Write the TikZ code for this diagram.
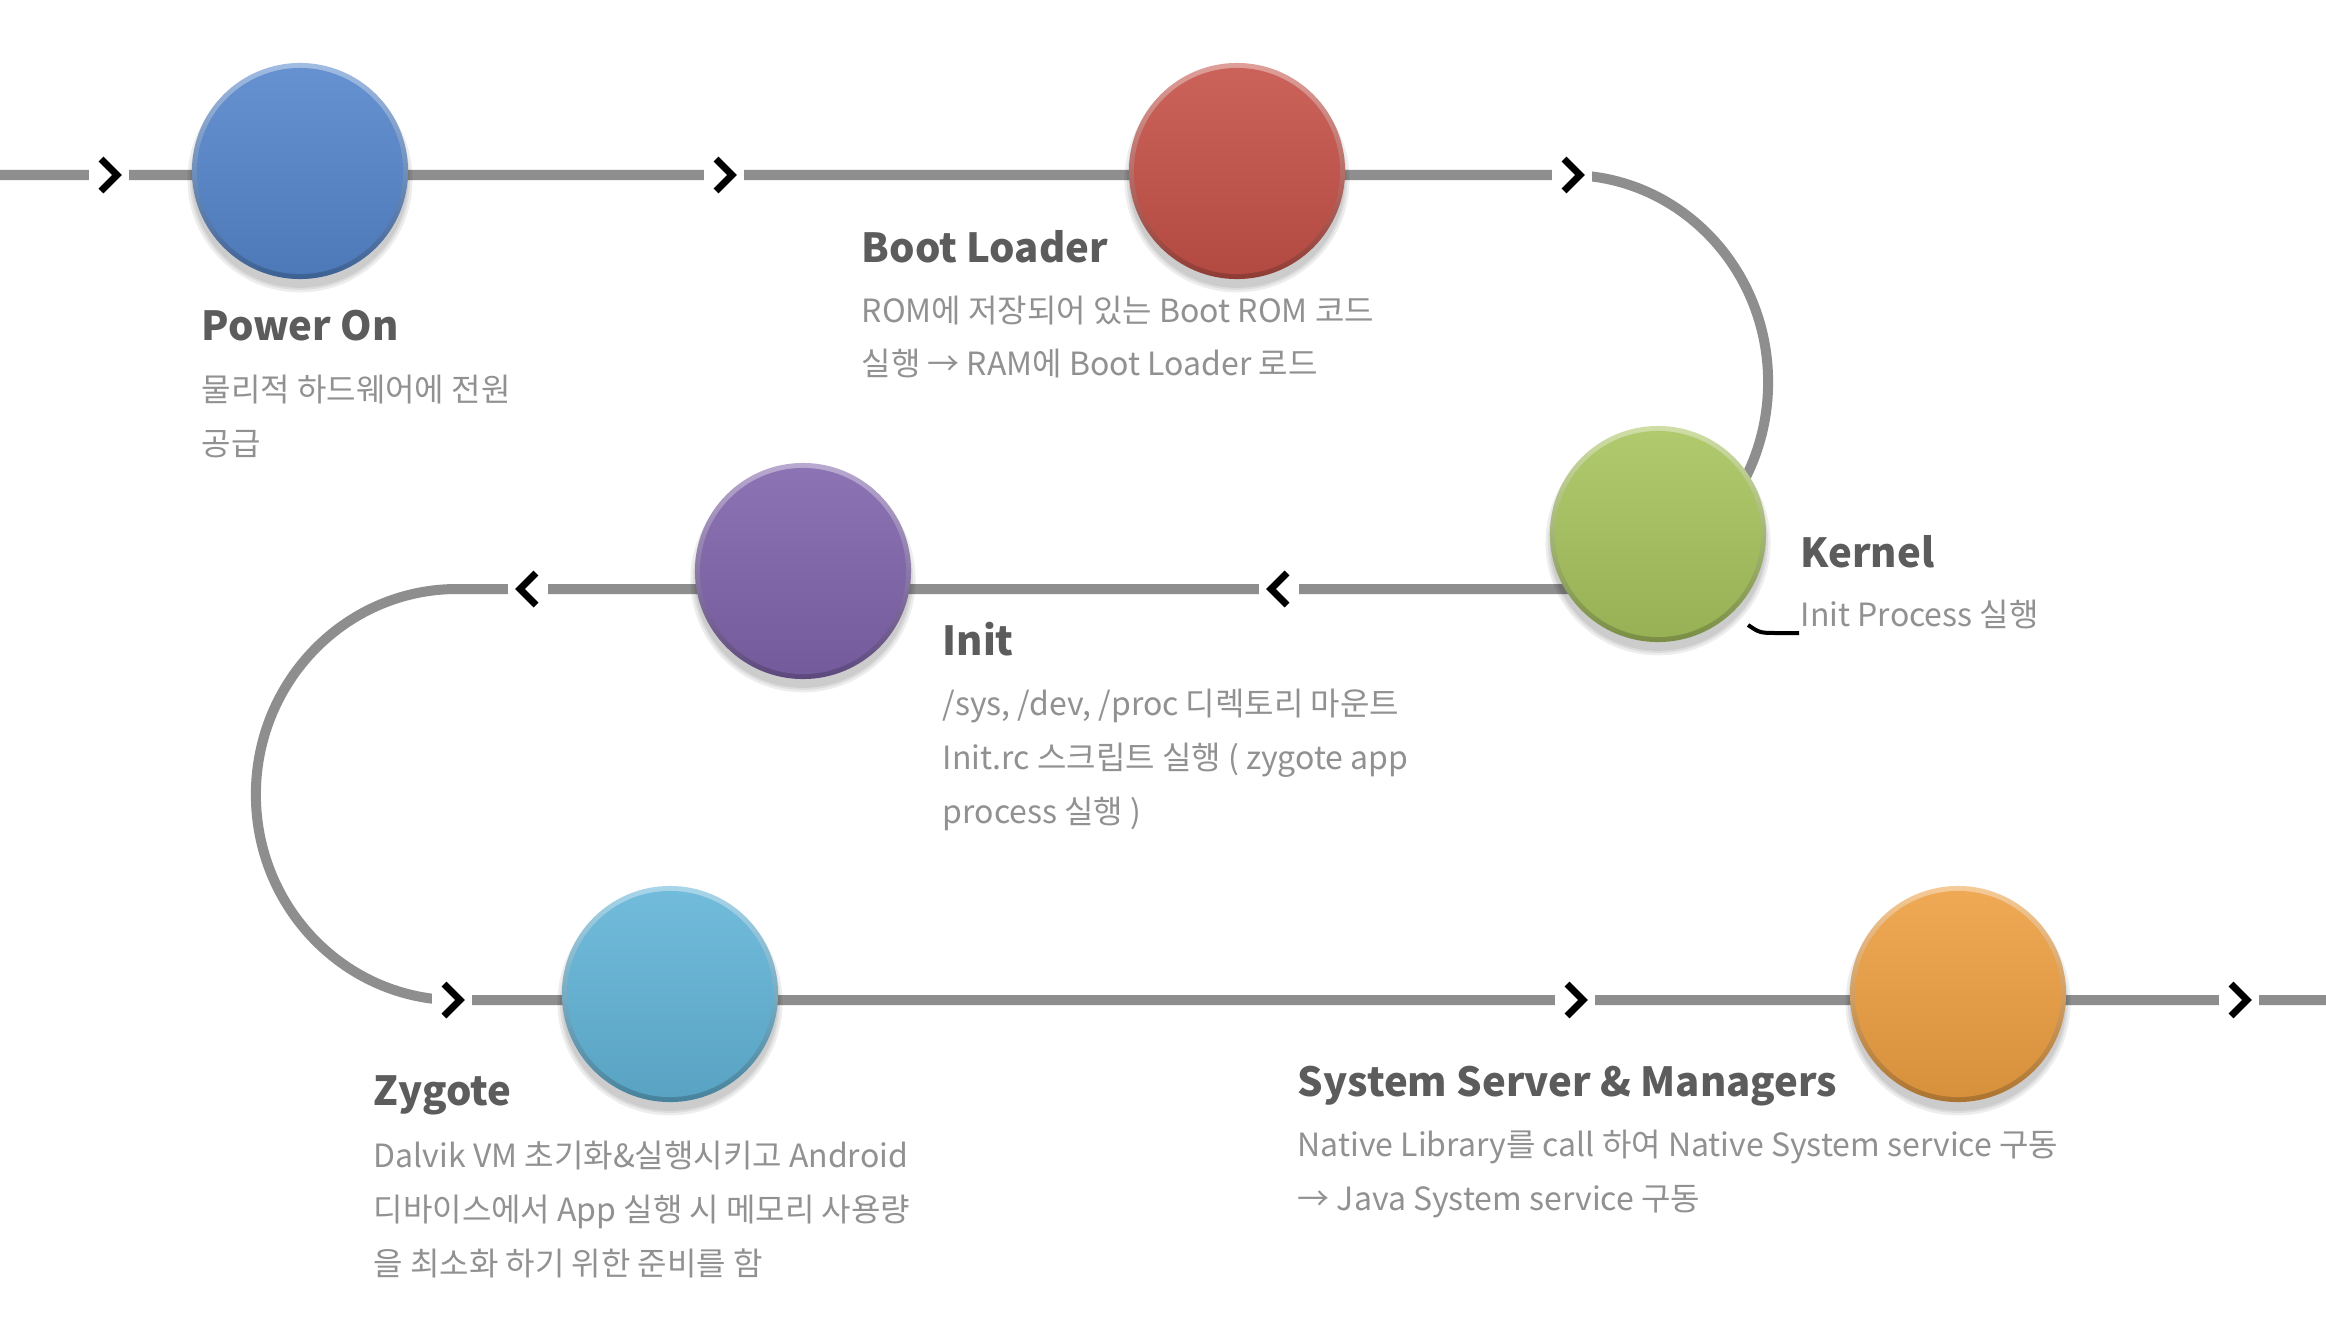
\documentclass[tikz,border=0pt]{standalone}
\usepackage{fontspec}
\setmainfont{Noto Sans CJK KR}
\usetikzlibrary{calc}
\definecolor{trackgray}{RGB}{142,142,142}
\definecolor{titlegray}{RGB}{92,92,92}
\definecolor{descgray}{RGB}{145,145,145}
\definecolor{cblue}{RGB}{85,134,204}
\definecolor{cred}{RGB}{198,82,72}
\definecolor{cgreen}{RGB}{168,196,94}
\definecolor{cpurple}{RGB}{128,100,172}
\definecolor{ccyan}{RGB}{98,180,216}
\definecolor{corange}{RGB}{238,160,66}
\pgfdeclarelayer{bg}
\pgfsetlayers{bg,main}
\tikzset{
  bead/.style={circle, minimum size=2.16cm, inner sep=0pt, outer sep=0pt,
    top color=#1!55!white, bottom color=#1!72!black,
    path picture={\shade[top color=#1!90!white, bottom color=#1!90!black]
      (path picture bounding box.center) circle[radius=1.03cm];}},
  track/.style={draw=trackgray, line width=0.1cm},
  ttl/.style={anchor=base west, inner sep=0pt, text=titlegray,
    font=\fontsize{11.4}{14}\selectfont\bfseries},
  dsc/.style={anchor=base west, inner sep=0pt, text=descgray,
    font=\fontsize{9.1}{11}\selectfont},
  chevR/.pic={\fill[white] (-33,-8) rectangle (7,8);
    \draw[black, line width=0.07cm, miter limit=10] (-21,-16) -- (-5,0) -- (-21,16);},
  chevL/.pic={\fill[white] (33,-8) rectangle (-7,8);
    \draw[black, line width=0.07cm, miter limit=10] (21,-16) -- (5,0) -- (21,16);},
  shadowlayer/.style={fill=black, opacity=0.07}
}
\begin{document}
\begin{tikzpicture}[x=0.01cm, y=-0.01cm]
\useasboundingbox (0,0) rectangle (2326,1324);

% beads
\node[bead=cblue]   (power)  at (300,171) {};
\node[bead=cred]    (boot)   at (1237,171) {};
\node[bead=cgreen]  (kernel) at (1658,534) {};
\node[bead=cpurple] (init)   at (803,571) {};
\node[bead=ccyan]   (zygote) at (670,994) {};
\node[bead=corange] (system) at (1958,994) {};

% track
\coordinate (start) at (0,175);
\coordinate (r1) at (1568,175);
\coordinate (l1) at (457,589);
\coordinate (finish) at (2326,1000);
\begin{pgfonlayer}{bg}
\fill[white] (0,0) rectangle (2326,1324);
\draw[track] (start) -- (r1) arc[start angle=90, end angle=-90, x radius=2.0cm, y radius=2.07cm]
  -- (l1) arc[start angle=90, end angle=270, x radius=2.01cm, y radius=2.055cm] -- (finish);
\foreach \b in {power,boot,kernel,init,zygote,system}{
  \fill[shadowlayer] ([yshift=-2.5pt]\b.center) circle[radius=1.125cm];
  \fill[shadowlayer] ([yshift=-2.5pt]\b.center) circle[radius=1.10cm];
  \fill[shadowlayer] ([yshift=-2.5pt]\b.center) circle[radius=1.08cm];
}
\end{pgfonlayer}

% chevrons
\pic at (122,175) {chevR};
\pic at (737,175) {chevR};
\pic at (1585,175) {chevR};
\pic at (1266,589) {chevL};
\pic at (515,589) {chevL};
\pic at (465,1000) {chevR};
\pic at (1588,1000) {chevR};
\pic at (2252,1000) {chevR};

% small black stroke near kernel
\draw[black, line width=0.04cm] (1748,625) .. controls (1760,633) .. (1778,633) -- (1799,633);

% texts
\node[ttl] (tPower) at (201,340) {Power On};
\node[dsc] (dPower1) at (201,401) {물리적 하드웨어에 전원};
\node[dsc] (dPower2) at (201,455) {공급};

\node[ttl] (tBoot) at (861,262) {Boot Loader};
\node[dsc] (dBoot1) at (861,322) {ROM에 저장되어 있는 Boot ROM 코드};
\node[dsc] (dBoot2) at (861,375) {실행 → RAM에 Boot Loader 로드};

\node[ttl] (tKernel) at (1800,567) {Kernel};
\node[dsc] (dKernel1) at (1800,626) {Init Process 실행};

\node[ttl] (tInit) at (942,655) {Init};
\node[dsc] (dInit1) at (942,715) {/sys, /dev, /proc 디렉토리 마운트};
\node[dsc] (dInit2) at (942,769) {Init.rc 스크립트 실행 ( zygote app};
\node[dsc] (dInit3) at (942,823) {process 실행 )};

\node[ttl] (tZygote) at (373,1105) {Zygote};
\node[dsc] (dZygote1) at (373,1167) {Dalvik VM 초기화\&실행시키고 Android};
\node[dsc] (dZygote2) at (373,1221) {디바이스에서 App 실행 시 메모리 사용량};
\node[dsc] (dZygote3) at (373,1275) {을 최소화 하기 위한 준비를 함};

\node[ttl] (tSystem) at (1297,1096) {System Server \& Managers};
\node[dsc] (dSystem1) at (1297,1156) {Native Library를 call 하여 Native System service 구동};
\node[dsc] (dSystem2) at (1297,1210) {→ Java System service 구동};
\end{tikzpicture}
\end{document}
